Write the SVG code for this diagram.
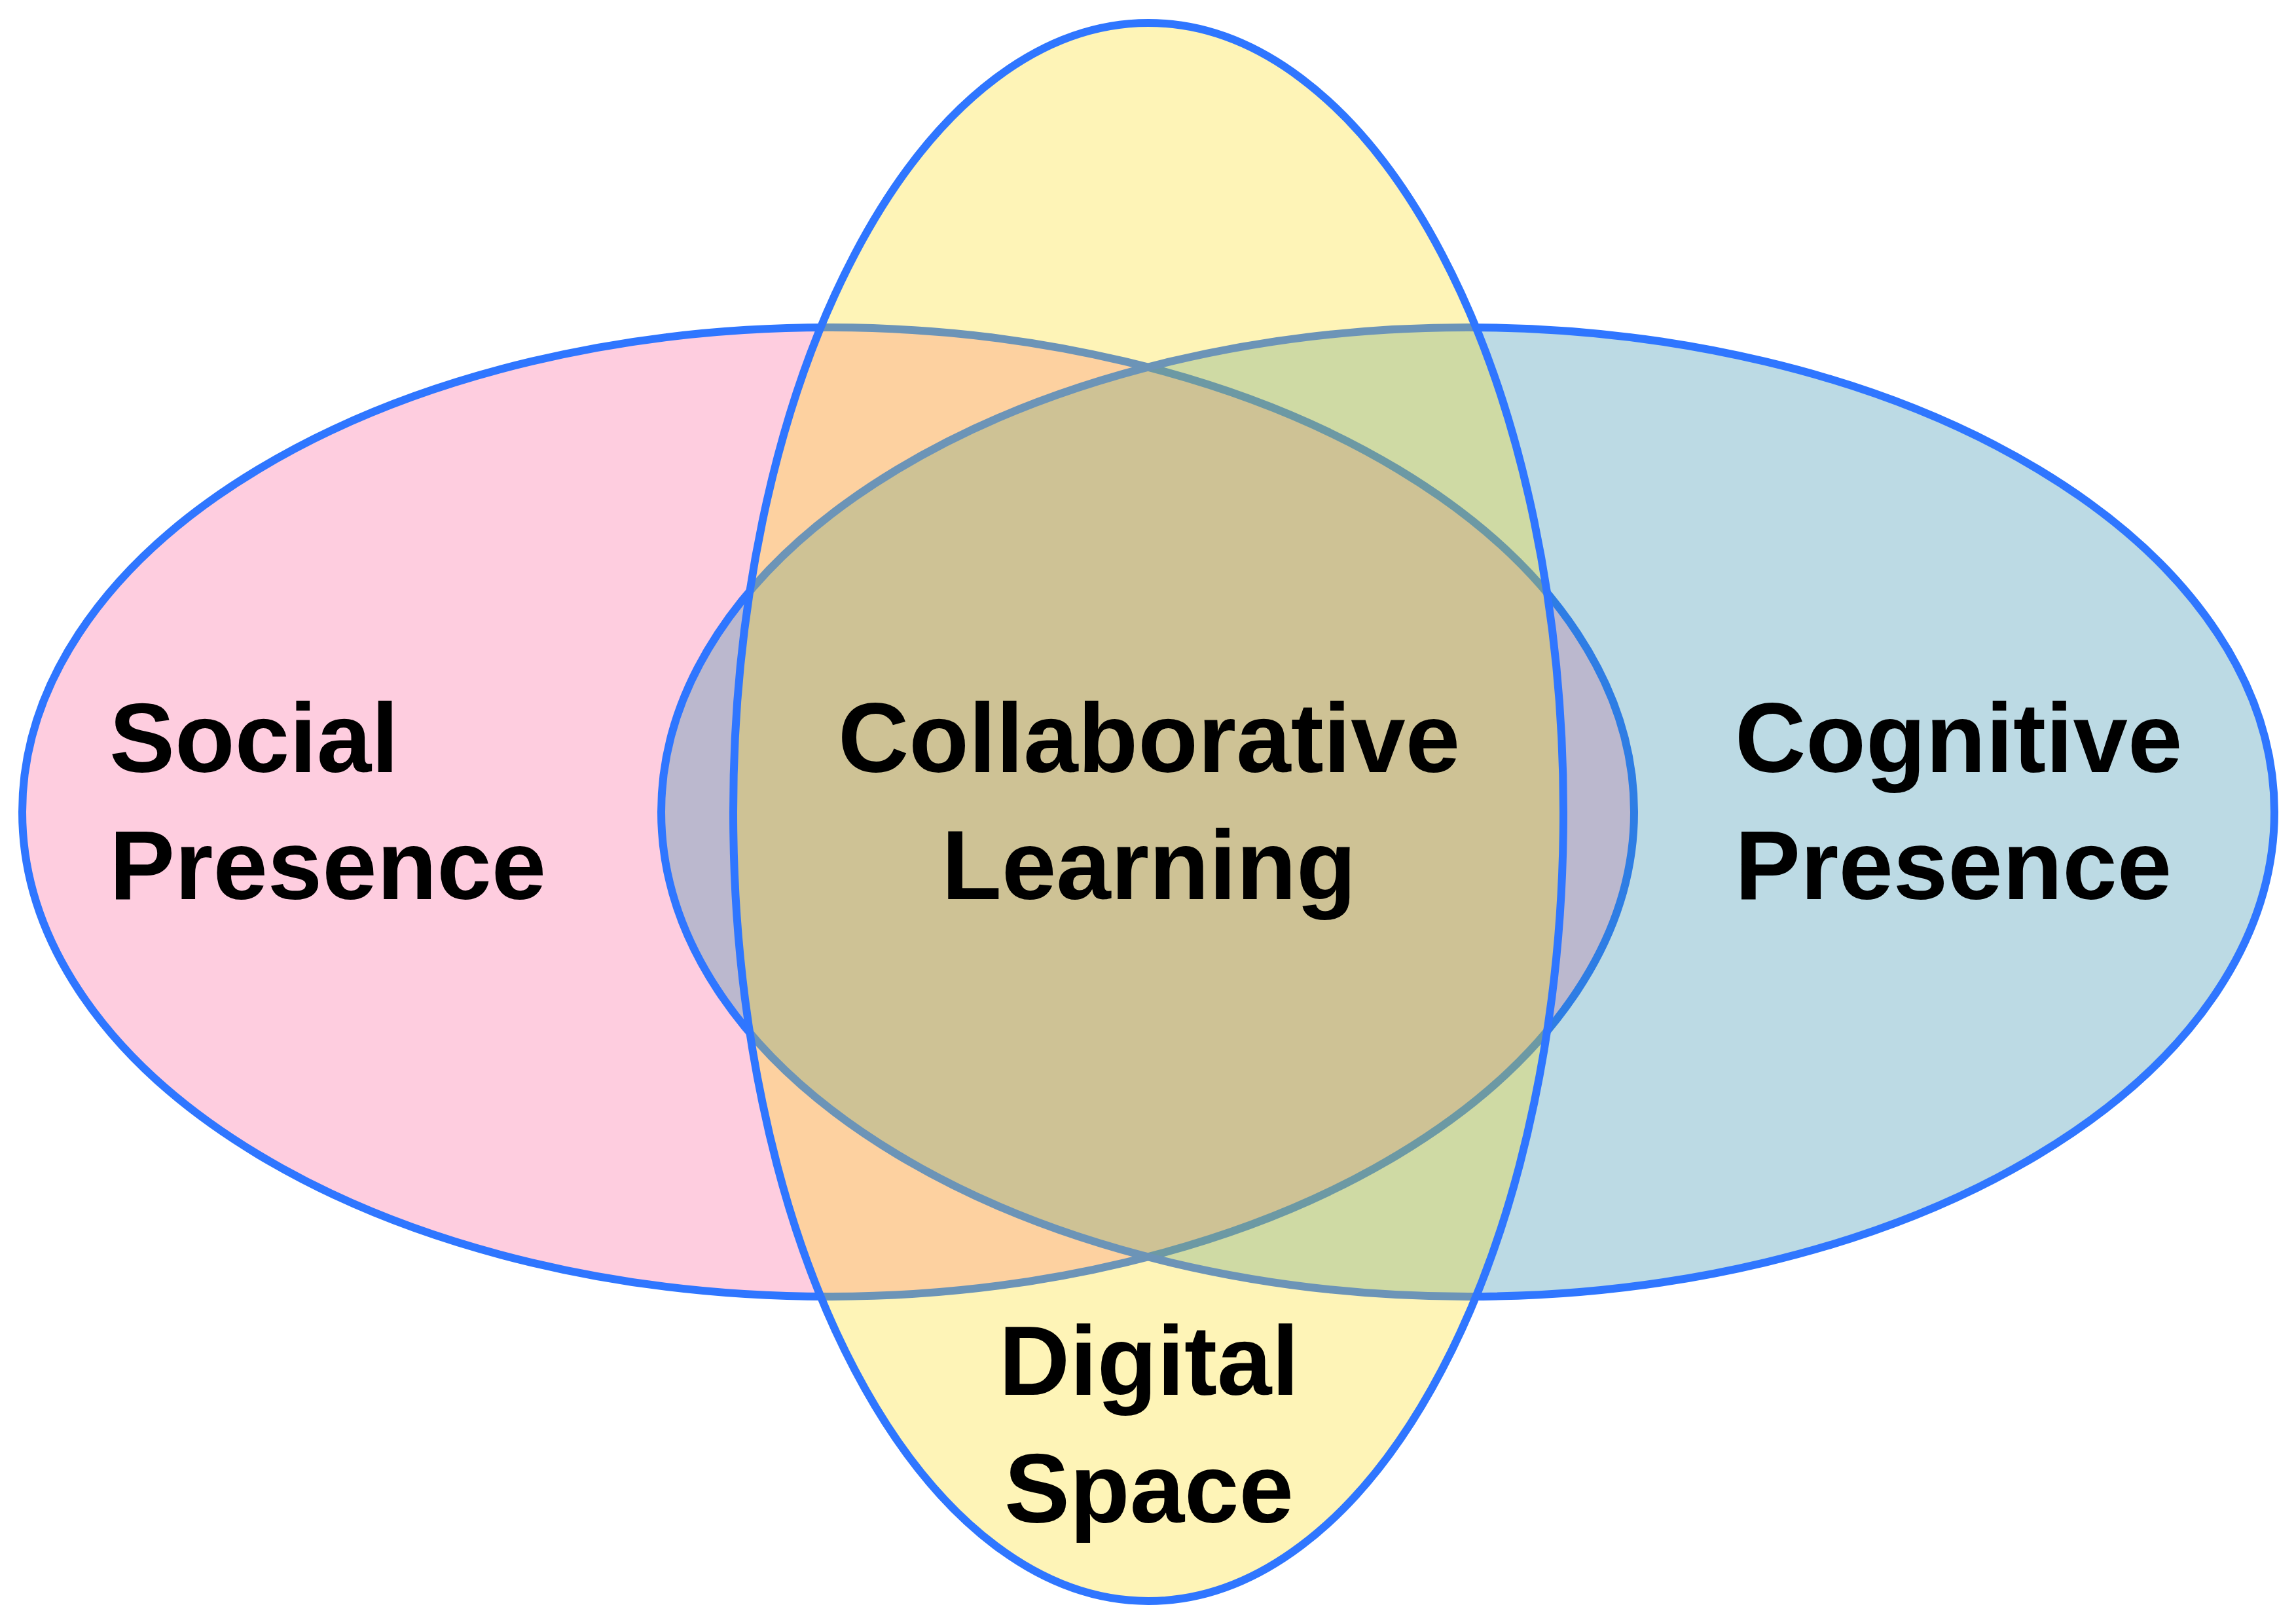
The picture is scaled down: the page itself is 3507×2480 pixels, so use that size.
<svg xmlns="http://www.w3.org/2000/svg" width="3507" height="2480" viewBox="0 0 3507 2480">
  <style>
    .edge { stroke: #2F76FF; stroke-width: 12; }
    .lbl { font-family: "Liberation Sans", Arial, sans-serif; font-weight: bold; font-size: 150px; fill: #000000; }
    .mid { text-anchor: middle; }
  </style>
  <rect x="0" y="0" width="3507" height="2480" fill="#FFFFFF"/>
  <g id="social-presence">
    <ellipse class="edge" cx="1265" cy="1240" rx="1231" ry="740" fill="#FECDDF"/>
  </g>
  <g id="cognitive-presence">
    <ellipse class="edge" cx="2242" cy="1240" rx="1232" ry="740" fill="rgb(46,139,171)" fill-opacity="0.32"/>
  </g>
  <g id="digital-space">
    <ellipse class="edge" cx="1754" cy="1240" rx="634" ry="1205" fill="rgb(252,218,18)" fill-opacity="0.3"/>
  </g>
  <g id="connectors"></g>
  <g id="labels">
    <text class="lbl" x="167" y="1179">Social</text>
    <text class="lbl" x="167" y="1373">Presence</text>
    <text class="lbl" x="2650" y="1179">Cognitive</text>
    <text class="lbl" x="2650" y="1373">Presence</text>
    <text class="lbl mid" x="1755" y="1179">Collaborative</text>
    <text class="lbl mid" x="1755" y="1373">Learning</text>
    <text class="lbl mid" x="1755" y="2130">Digital</text>
    <text class="lbl mid" x="1755" y="2325">Space</text>
  </g>
</svg>
